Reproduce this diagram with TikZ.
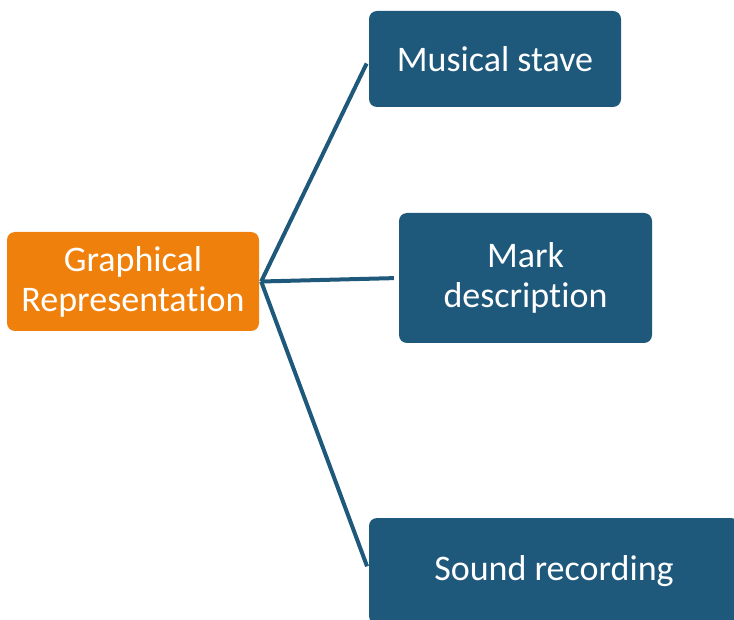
\documentclass[tikz,border=0pt]{standalone}
\usepackage{fontspec}
\setmainfont{Carlito}[Ligatures=NoCommon]
\definecolor{boxorange}{RGB}{239,128,12}
\definecolor{boxblue}{RGB}{30,89,124}
\tikzset{
	topic/.style={fill=boxorange, text=white, rounded corners=8pt, align=center, inner sep=0pt},
	leaf/.style={fill=boxblue, text=white, rounded corners=8pt, align=center, inner sep=0pt},
	link/.style={draw=boxblue, line width=4pt, shorten >=5pt}
}
\begin{document}
\begin{tikzpicture}[x=1pt, y=-1pt, font=\fontsize{36}{40}\selectfont, line join=round]
	\clip (0,0) rectangle (734,620);
	\node[topic, minimum width=252pt, minimum height=99pt] (graph) at (133,281.5) {Graphical\\Representation};
	\node[leaf, minimum width=252pt, minimum height=96pt] (stave) at (495,59) {Musical stave};
	\node[leaf, minimum width=253pt, minimum height=130pt] (mark) at (525.5,278) {Mark\\description};
	\node[leaf, minimum width=370pt, minimum height=106pt] (sound) at (554,571) {Sound recording};
	\coordinate (hub) at ([xshift=2pt]graph.east);
	\draw[link] (hub) -- (stave.west);
	\draw[link] (hub) -- (mark.west);
	\draw[link] (hub) -- (sound.west);
\end{tikzpicture}
\end{document}
